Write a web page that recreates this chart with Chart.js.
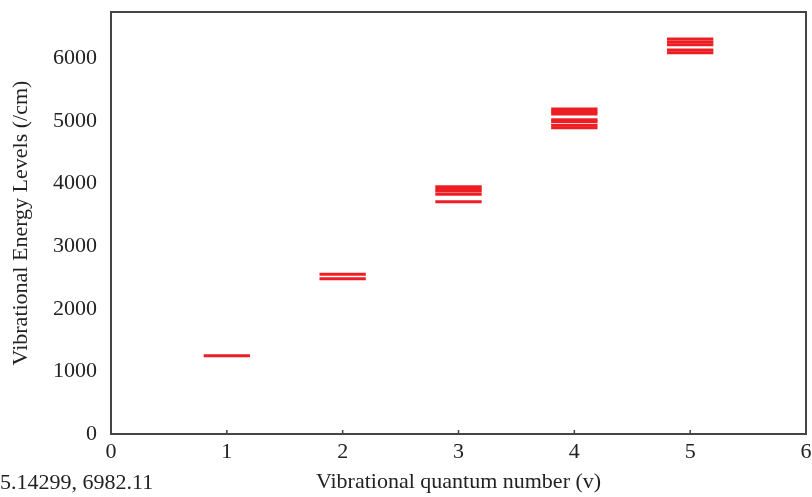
<!DOCTYPE html>
<html>
<head>
<meta charset="utf-8">
<script src="https://cdn.jsdelivr.net/npm/chart.js@4"></script>
<style>
    html, body { margin: 0; padding: 0; background: #fff; }
    #wrap { position: relative; width: 812px; height: 497px; }
    #cursorPos {
        position: absolute; left: 0; top: 469px;
        font-family: 'Liberation Serif', 'DejaVu Serif', serif;
        font-size: 22px; color: #222;
    }
</style>
</head>
<body>
<div id="wrap">
    <canvas id="levelsChart" width="812" height="497"></canvas>
    <div id="cursorPos">5.14299, 6982.11</div>
</div>
<script>
// Vibrational quantum numbers and the energy levels (/cm) found for each one
const quantumNumbers = [1, 2, 3, 4, 5];
const levelsV1 = [1250];
const levelsV2 = [2480, 2550];
const levelsV3 = [3710, 3830, 3880, 3915, 3950];
const levelsV4 = [4890, 4930, 4990, 5020, 5110, 5150, 5190];
const levelsV5 = [6090, 6135, 6215, 6260, 6310];
const xTicks = [0, 1, 2, 3, 4, 5, 6];
const yTicks = [0, 1000, 2000, 3000, 4000, 5000, 6000];

const allLevels = [levelsV1, levelsV2, levelsV3, levelsV4, levelsV5];
const halfWidth = 0.2;
const levelColor = 'rgb(236, 30, 36)';
const serif = "'Liberation Serif', 'DejaVu Serif', serif";

// one short horizontal segment per level
const datasets = [];
quantumNumbers.forEach((v, i) => {
    allLevels[i].forEach(e => {
        datasets.push({
            data: [{ x: v - halfWidth, y: e }, { x: v + halfWidth, y: e }],
            borderColor: levelColor,
            borderWidth: 3,
            pointRadius: 0,
            fill: false
        });
    });
});

// box around the plot with small inward ticks on the bottom axis
const frameBox = {
    id: 'frameBox',
    afterDraw(chart) {
        const { ctx, chartArea: a, scales } = chart;
        ctx.save();
        ctx.strokeStyle = '#444';
        ctx.lineWidth = 2;
        ctx.strokeRect(a.left, a.top, a.right - a.left, a.bottom - a.top);
        ctx.lineWidth = 1.5;
        xTicks.forEach(t => {
            const px = scales.x.getPixelForValue(t);
            ctx.beginPath();
            ctx.moveTo(px, a.bottom);
            ctx.lineTo(px, a.bottom - 4);
            ctx.stroke();
        });
        ctx.restore();
    }
};

new Chart(document.getElementById('levelsChart').getContext('2d'), {
    type: 'line',
    data: { datasets: datasets },
    options: {
        responsive: false,
        animation: false,
        layout: { padding: { top: 12, right: 6, left: 0, bottom: 0 } },
        plugins: {
            legend: { display: false },
            tooltip: { enabled: false }
        },
        scales: {
            x: {
                type: 'linear',
                min: 0,
                max: 6,
                afterBuildTicks: s => { s.ticks = xTicks.map(v => ({ value: v })); },
                afterFit: s => {
                    s.height = 63;
                    s.paddingLeft = 0;
                    s.paddingRight = 0;
                },
                grid: { display: false, drawTicks: false },
                border: { display: false },
                ticks: {
                    color: '#222', padding: 5,
                    font: { family: serif, size: 22 },
                    callback: v => String(v)
                },
                title: {
                    display: true,
                    text: 'Vibrational quantum number (v)',
                    color: '#222',
                    padding: { top: 0, bottom: 2 },
                    font: { family: serif, size: 22 }
                }
            },
            y: {
                min: 0,
                max: 6740,
                afterBuildTicks: s => { s.ticks = yTicks.map(v => ({ value: v })); },
                afterFit: s => {
                    s.width = 111;
                    s.paddingTop = 0;
                    s.paddingBottom = 0;
                },
                grid: { display: false, drawTicks: false },
                border: { display: false },
                ticks: {
                    color: '#222', padding: 14,
                    font: { family: serif, size: 22 },
                    callback: v => String(v)
                },
                title: {
                    display: true,
                    text: 'Vibrational Energy Levels (/cm)',
                    color: '#222',
                    padding: { top: 8, bottom: 0 },
                    font: { family: serif, size: 22 }
                }
            }
        }
    },
    plugins: [frameBox]
});
</script>
</body>
</html>
